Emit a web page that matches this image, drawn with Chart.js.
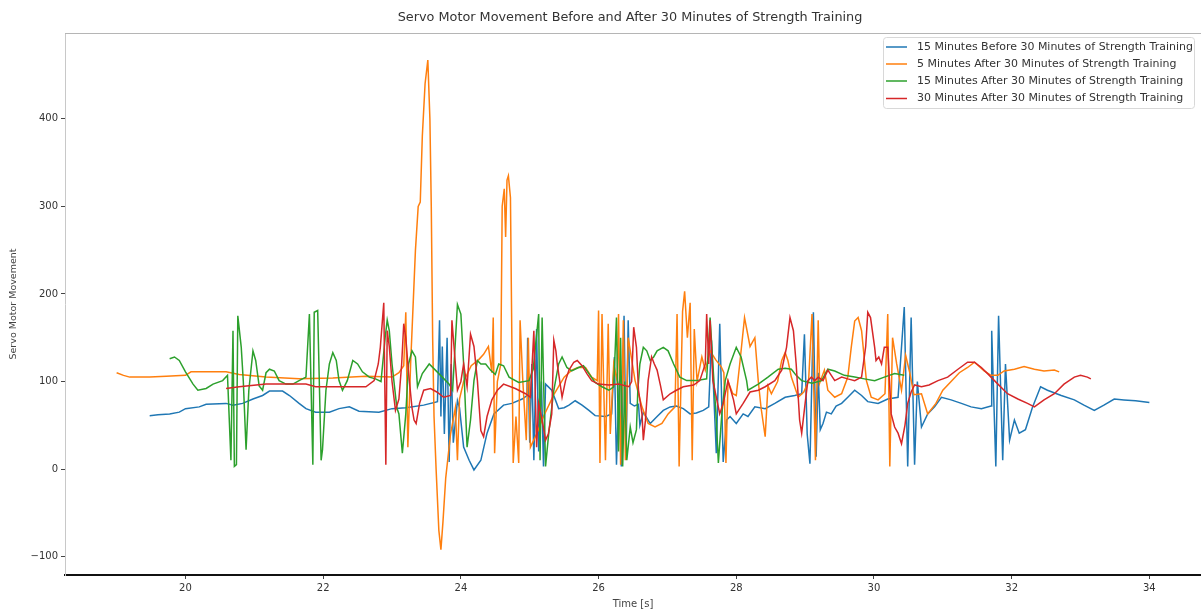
<!DOCTYPE html>
<html>
<head>
<meta charset="utf-8">
<title>Servo Motor Movement</title>
<script src="https://cdn.jsdelivr.net/npm/chart.js@4.4.1/dist/chart.umd.min.js"></script>
<style>
  html, body { margin: 0; padding: 0; background: #fff; }
  canvas { display: block; }
</style>
</head>
<body>
<canvas id="servoChart" width="1201" height="611"></canvas>
<script>
// series names as in the legend
const seriesLabels = [
  "15 Minutes Before 30 Minutes of Strength Training",
  "5 Minutes After 30 Minutes of Strength Training",
  "15 Minutes After 30 Minutes of Strength Training",
  "30 Minutes After 30 Minutes of Strength Training"
];
const xTicks = [20, 22, 24, 26, 28, 30, 32, 34];
const yTicks = [-100, 0, 100, 200, 300, 400];

// 15 min before (time [s], movement)
const timeBefore15 = [
  19.48,19.6,19.77,19.91,20.0,20.2,20.3,20.59,20.69,20.83,
  20.98,21.12,21.22,21.41,21.51,21.65,21.75,21.89,22.09,22.23,
  22.38,22.52,22.81,23.0,23.2,23.46,23.66,23.69,23.71,23.73,
  23.76,23.8,23.83,23.86,23.89,23.95,23.98,24.04,24.12,24.19,
  24.29,24.38,24.48,24.62,24.74,24.89,24.96,24.97,25.0,25.03,
  25.06,25.1,25.13,25.17,25.2,25.23,25.32,25.42,25.5,25.57,
  25.66,25.76,25.86,25.95,26.1,26.19,26.23,26.26,26.3,26.33,
  26.37,26.4,26.43,26.46,26.52,26.58,26.6,26.65,26.75,26.85,
  26.94,27.04,27.13,27.23,27.33,27.42,27.52,27.6,27.64,27.71,
  27.76,27.81,27.86,27.91,28.0,28.1,28.17,28.27,28.42,28.56,
  28.71,28.85,28.95,28.99,29.03,29.07,29.12,29.16,29.19,29.22,
  29.26,29.31,29.38,29.45,29.53,29.62,29.72,29.82,29.91,30.06,
  30.2,30.35,30.44,30.49,30.54,30.59,30.63,30.69,30.78,30.88,
  30.98,31.12,31.27,31.41,31.56,31.7,31.71,31.77,31.81,31.87,
  31.91,31.97,32.04,32.11,32.2,32.3,32.42,32.52,32.72,32.91,
  33.05,33.2,33.34,33.49,33.63,33.8,34.0
];
const moveBefore15 = [
  61,62,63,65,69,71,74,75,73,75,
  80,84,89,89,84,75,69,65,65,69,
  71,66,65,69,70,73,77,170,60,140,
  40,150,8,120,30,78,70,25,10,-1,
  10,41,63,73,75,80,84,150,30,120,
  10,160,20,100,3,97,90,69,70,73,
  78,73,67,61,60,63,128,5,100,3,
  175,14,170,75,72,74,50,65,52,60,
  67,71,72,69,63,64,67,71,147,18,
  166,8,56,60,52,63,60,71,69,75,
  82,84,86,154,40,6,179,14,110,45,
  52,65,63,72,75,82,90,84,77,75,
  80,82,185,3,173,5,100,48,63,71,
  82,79,75,71,69,72,158,3,175,10,
  120,33,56,41,45,70,94,90,84,79,
  73,67,73,80,79,78,76
];

// 5 min after
const timeAfter5 = [
  19.0,19.1,19.19,19.48,19.72,20.0,20.08,20.59,20.78,21.17,
  21.65,22.14,22.62,23.0,23.1,23.17,23.2,23.23,23.27,23.34,
  23.38,23.41,23.44,23.48,23.52,23.55,23.57,23.59,23.61,23.64,
  23.68,23.71,23.74,23.78,23.85,23.92,23.95,23.98,24.04,24.15,
  24.26,24.33,24.4,24.45,24.47,24.49,24.53,24.58,24.6,24.63,
  24.65,24.67,24.69,24.72,24.74,24.76,24.8,24.84,24.86,24.9,
  24.95,24.98,25.01,25.1,25.2,25.35,25.5,25.61,25.7,25.81,
  25.9,25.98,26.0,26.02,26.05,26.1,26.14,26.17,26.22,26.27,
  26.29,26.32,26.36,26.39,26.43,26.53,26.63,26.72,26.82,26.92,
  27.01,27.11,27.14,27.17,27.22,27.25,27.29,27.33,27.36,27.39,
  27.43,27.5,27.55,27.62,27.7,27.78,27.82,27.85,27.88,27.95,
  28.0,28.05,28.12,28.2,28.27,28.32,28.36,28.42,28.46,28.51,
  28.6,28.66,28.71,28.75,28.8,28.9,28.98,29.05,29.1,29.15,
  29.19,29.21,29.28,29.33,29.43,29.53,29.62,29.67,29.72,29.77,
  29.82,29.89,29.96,30.06,30.16,30.2,30.23,30.27,30.33,30.4,
  30.46,30.52,30.58,30.69,30.78,30.9,31.0,31.12,31.24,31.36,
  31.46,31.6,31.7,31.8,31.89,32.04,32.18,32.33,32.47,32.62,
  32.69
];
const moveAfter5 = [
  110,107,105,105,106,107,111,111,108,105,
  103,104,106,105,110,118,179,25,120,250,
  300,305,380,440,467,400,300,150,60,0,
  -70,-92,-60,-10,40,70,10,80,100,118,
  125,131,140,110,173,18,100,120,300,320,
  265,330,335,310,150,7,60,7,170,100,
  33,150,25,40,60,85,105,113,116,116,
  105,101,181,7,177,10,166,40,120,100,
  177,5,170,10,150,101,71,52,48,52,
  63,71,177,3,180,203,150,190,10,160,
  100,128,113,135,125,117,110,7,100,86,
  84,120,173,140,150,100,70,37,95,86,
  100,124,133,124,105,82,88,100,177,10,
  170,98,113,90,82,86,105,139,169,173,
  158,101,82,79,86,177,3,150,120,90,
  130,110,85,86,63,75,90,100,110,116,
  122,112,107,107,112,114,117,114,112,113,
  111
];

// 15 min after
const timeAfter15 = [
  19.77,19.84,19.91,20.0,20.11,20.18,20.3,20.4,20.54,20.61,
  20.66,20.69,20.71,20.74,20.76,20.81,20.84,20.88,20.92,20.98,
  21.02,21.07,21.12,21.17,21.22,21.29,21.36,21.46,21.56,21.65,
  21.75,21.8,21.85,21.87,21.92,21.97,21.99,22.04,22.09,22.14,
  22.19,22.23,22.28,22.35,22.43,22.5,22.57,22.67,22.76,22.84,
  22.9,22.93,22.96,23.0,23.07,23.1,23.15,23.2,23.24,23.29,
  23.34,23.37,23.44,23.54,23.63,23.73,23.83,23.88,23.95,24.0,
  24.04,24.09,24.14,24.19,24.24,24.29,24.36,24.43,24.5,24.55,
  24.62,24.7,24.84,24.99,25.05,25.13,25.15,25.18,25.23,25.28,
  25.35,25.42,25.47,25.54,25.61,25.71,25.78,25.86,25.95,26.05,
  26.15,26.22,26.26,26.29,26.32,26.35,26.38,26.41,26.46,26.5,
  26.55,26.57,26.6,26.65,26.7,26.75,26.8,26.85,26.94,27.01,
  27.09,27.18,27.28,27.42,27.57,27.62,27.66,27.71,27.74,27.79,
  27.84,27.91,28.0,28.07,28.15,28.17,28.32,28.46,28.61,28.71,
  28.8,28.87,28.95,29.1,29.24,29.33,29.43,29.57,29.72,29.86,
  30.01,30.15,30.3,30.44
];
const moveAfter15 = [
  126,128,124,111,97,90,92,97,101,107,
  10,158,3,5,175,139,100,22,90,135,
  124,95,90,110,114,112,101,97,97,101,
  105,177,5,179,181,10,22,90,120,133,
  124,101,90,101,124,120,111,105,103,100,
  150,170,158,120,70,63,18,63,120,135,
  128,94,109,120,113,105,97,90,188,177,
  120,25,56,101,124,120,120,113,108,120,
  118,105,99,101,114,177,10,173,3,44,
  90,120,128,116,112,116,118,109,99,94,
  90,94,173,20,150,3,100,10,48,30,
  45,90,120,139,135,124,128,135,139,135,
  120,105,101,101,103,173,120,56,7,63,
  101,120,139,128,101,90,97,105,114,115,
  114,107,101,98,101,114,112,107,105,103,
  101,105,109,107
];

// 30 min after
const timeAfter30 = [
  20.59,20.78,21.17,21.46,21.75,21.89,22.23,22.62,22.74,22.8,
  22.83,22.88,22.91,22.93,22.96,23.0,23.05,23.1,23.14,23.17,
  23.2,23.24,23.29,23.32,23.35,23.4,23.46,23.56,23.65,23.75,
  23.85,23.87,23.89,23.91,23.95,24.0,24.04,24.09,24.14,24.19,
  24.24,24.29,24.33,24.38,24.45,24.53,24.62,24.79,24.94,25.01,
  25.06,25.1,25.13,25.18,25.23,25.27,25.32,25.35,25.38,25.4,
  25.47,25.52,25.57,25.64,25.69,25.76,25.83,25.9,26.0,26.15,
  26.29,26.44,26.48,26.51,26.55,26.58,26.63,26.65,26.68,26.72,
  26.77,26.81,26.85,26.9,26.94,27.04,27.13,27.23,27.38,27.47,
  27.55,27.57,27.6,27.62,27.66,27.71,27.76,27.81,27.88,27.96,
  28.0,28.1,28.2,28.32,28.42,28.56,28.66,28.73,28.78,28.83,
  28.87,28.9,28.92,28.95,29.0,29.04,29.09,29.14,29.19,29.26,
  29.33,29.43,29.53,29.62,29.72,29.82,29.88,29.91,29.95,30.01,
  30.03,30.07,30.11,30.15,30.2,30.25,30.3,30.35,30.4,30.45,
  30.49,30.54,30.59,30.69,30.8,30.93,31.07,31.22,31.36,31.46,
  31.56,31.65,31.8,31.94,32.09,32.23,32.33,32.47,32.62,32.76,
  32.91,33.0,33.1,33.15
];
const moveAfter30 = [
  92,94,97,97,97,94,94,94,101,120,
  139,190,5,158,140,100,67,80,120,166,
  150,110,70,56,52,75,90,92,88,82,
  84,170,150,130,90,100,120,94,154,140,
  101,44,37,60,79,90,97,92,86,82,
  158,25,75,56,33,40,63,147,135,120,
  82,101,113,122,124,118,109,101,97,96,
  97,94,100,162,139,90,63,33,55,101,
  128,120,113,95,79,86,90,94,96,101,
  120,177,120,170,101,82,63,75,101,79,
  63,75,88,90,94,101,113,139,173,158,
  120,82,56,41,75,101,105,101,105,101,
  113,101,105,103,101,105,140,179,173,139,
  124,128,120,139,139,63,48,41,29,50,
  75,88,96,94,96,101,105,114,122,122,
  116,109,97,86,80,75,71,79,86,97,
  105,107,105,103
];

const FONT = "'DejaVu Sans', sans-serif";
const colors = ["#1f77b4", "#ff7f0e", "#2ca02c", "#d62728"];

function toPoints(times, values) {
  return times.map((t, i) => ({ x: t, y: values[i] }));
}

// scale a font so that the text takes a given width
function fitSize(ctx, text, width) {
  ctx.font = "100px " + FONT;
  return 100 * width / ctx.measureText(text).width;
}

const framePlugin = {
  id: "frame",
  afterDraw(chart) {
    const ctx = chart.ctx;
    const area = chart.chartArea;
    ctx.save();

    // top spine
    ctx.strokeStyle = "#b5b5b5";
    ctx.lineWidth = 1;
    ctx.beginPath();
    ctx.moveTo(area.left, area.top + 0.5);
    ctx.lineTo(area.right, area.top + 0.5);
    ctx.stroke();

    // title
    const title = "Servo Motor Movement Before and After 30 Minutes of Strength Training";
    ctx.fillStyle = "#333";
    ctx.font = fitSize(ctx, title, 465).toFixed(2) + "px " + FONT;
    ctx.textAlign = "center";
    ctx.textBaseline = "middle";
    ctx.fillText(title, 630, 18);

    // legend
    ctx.fillStyle = "rgba(255,255,255,0.85)";
    ctx.strokeStyle = "#d8d8d8";
    ctx.beginPath();
    ctx.roundRect(883.5, 37.5, 311, 71, 3);
    ctx.fill();
    ctx.stroke();
    const size = fitSize(ctx, seriesLabels[0], 276);
    ctx.font = size.toFixed(2) + "px " + FONT;
    ctx.textAlign = "left";
    const rows = [47, 64, 81, 98.5];
    seriesLabels.forEach((label, i) => {
      ctx.strokeStyle = colors[i];
      ctx.lineWidth = 1.5;
      ctx.beginPath();
      ctx.moveTo(886, rows[i]);
      ctx.lineTo(907, rows[i]);
      ctx.stroke();
      ctx.fillStyle = "#333";
      ctx.fillText(label, 917, rows[i]);
    });
    ctx.restore();
  }
};

const series = [
  [timeBefore15, moveBefore15],
  [timeAfter5, moveAfter5],
  [timeAfter15, moveAfter15],
  [timeAfter30, moveAfter30]
];

const datasets = series.map(([times, values], i) => ({
  label: seriesLabels[i],
  data: toPoints(times, values),
  borderColor: colors[i],
  backgroundColor: colors[i],
  borderWidth: 1.5,
  pointRadius: 0,
  tension: 0,
  fill: false,
  order: series.length - i
}));

const tickFont = { family: FONT, size: 10 };

new Chart(document.getElementById("servoChart").getContext("2d"), {
  type: "line",
  data: { datasets },
  options: {
    responsive: false,
    animation: false,
    devicePixelRatio: 1,
    layout: { padding: { top: 33, left: 0, right: 0, bottom: 0 } },
    plugins: {
      legend: { display: false },
      title: { display: false },
      tooltip: { enabled: false }
    },
    scales: {
      x: {
        type: "linear",
        min: 18.25,
        max: 34.75,
        afterBuildTicks: scale => { scale.ticks = xTicks.map(v => ({ value: v })); },
        afterFit: scale => { scale.height = 36; },
        ticks: { font: tickFont, color: "#333", padding: 3, maxRotation: 0 },
        grid: { drawOnChartArea: false, tickLength: 4, color: "#444" },
        border: { color: "#111", width: 2 },
        title: {
          display: true,
          text: "Time [s]",
          font: tickFont,
          color: "#444",
          padding: { top: 0, bottom: 1 }
        }
      },
      y: {
        min: -121,
        max: 498,
        afterBuildTicks: scale => { scale.ticks = yTicks.map(v => ({ value: v })); },
        afterFit: scale => { scale.width = 65; },
        ticks: {
          font: tickFont,
          color: "#333",
          padding: 3,
          callback: v => (v < 0 ? "\u2212" + Math.abs(v) : String(v))
        },
        grid: { drawOnChartArea: false, tickLength: 4, color: "#444" },
        border: { color: "#c8c8c8", width: 1 },
        title: {
          display: true,
          text: "Servo Motor Movement",
          font: { family: FONT, size: 9.5 },
          color: "#444",
          padding: { top: 8, bottom: 0 }
        }
      }
    }
  },
  plugins: [framePlugin]
});
</script>
</body>
</html>
